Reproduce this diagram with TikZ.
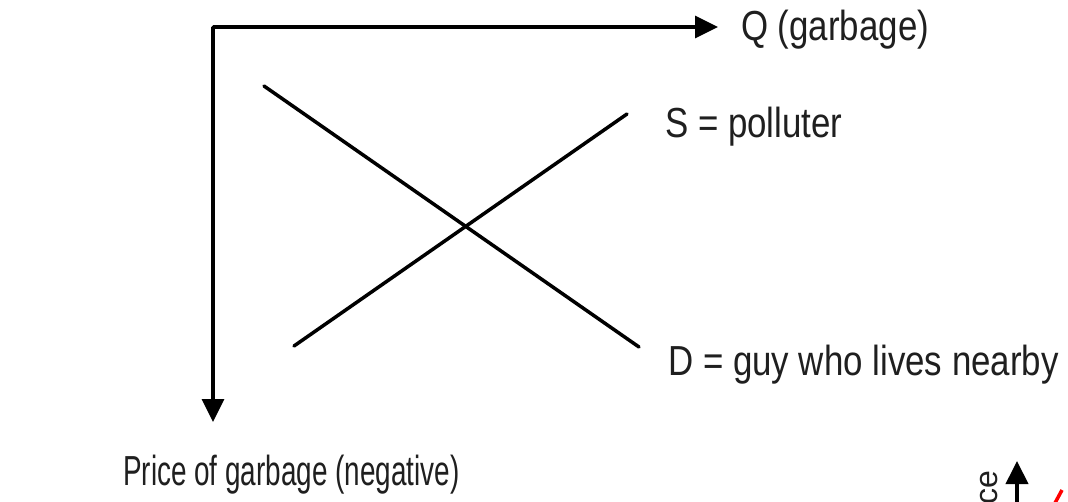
\documentclass[tikz,border=0pt]{standalone}
\usepackage{fontspec}
\setmainfont{Liberation Sans}[FakeStretch=0.83]
\newfontfamily\plainsans{Liberation Sans}
\usetikzlibrary{arrows.meta}
\tikzset{
  tip/.style={-{Triangle[length=23pt,width=22pt]}},
  axis/.style={line width=3.5pt, line join=round, tip},
  curve/.style={line width=3.5pt, line cap=round},
  lab/.style={anchor=base west, inner sep=0pt, text=black!88, font=\fontsize{42}{46}\selectfont},
}
\begin{document}
\begin{tikzpicture}[x=1pt,y=-1pt]
\useasboundingbox (0,0) rectangle (1068,501);
\fill[white] (0,0) rectangle (1068,501);
\clip (0,0) rectangle (1068,501);
% axes
\coordinate (O) at (213,27);
\coordinate (Qend) at (718,27);
\coordinate (Pend) at (213,422);
\draw[axis] (O) -- (Qend);
\draw[axis] (O) -- (Pend);
\fill (O) circle (1.75pt);
% curves
\coordinate (D1) at (264,86);
\coordinate (D2) at (639,347);
\coordinate (S1) at (294,346);
\coordinate (S2) at (627,114);
\draw[curve] (D1) -- (D2);
\draw[curve] (S1) -- (S2);
% labels
\node[lab] (qlab) at (741,40) {Q (garbage)};
\node[lab] (slab) at (665,137) {S = polluter};
\node[lab] (dlab) at (668,375) {D = guy who lives nearby};
\node[lab] (plab) at (123,485) {\scalebox{0.8}[1]{Price of garbage (negative)}};
% cropped fragment in the corner
\node[rotate=90, anchor=base east, inner sep=0pt, text=black!88, font=\plainsans\fontsize{32}{34}\selectfont] (frag) at (997,470) {Price};
\coordinate (f1) at (1017,505);
\coordinate (f2) at (1017,461);
\draw[line width=4pt, tip] (f1) -- (f2);
\coordinate (r1) at (1055,503);
\coordinate (r2) at (1062,490);
\draw[red, line width=3.5pt] (r1) -- (r2);
\end{tikzpicture}
\end{document}
